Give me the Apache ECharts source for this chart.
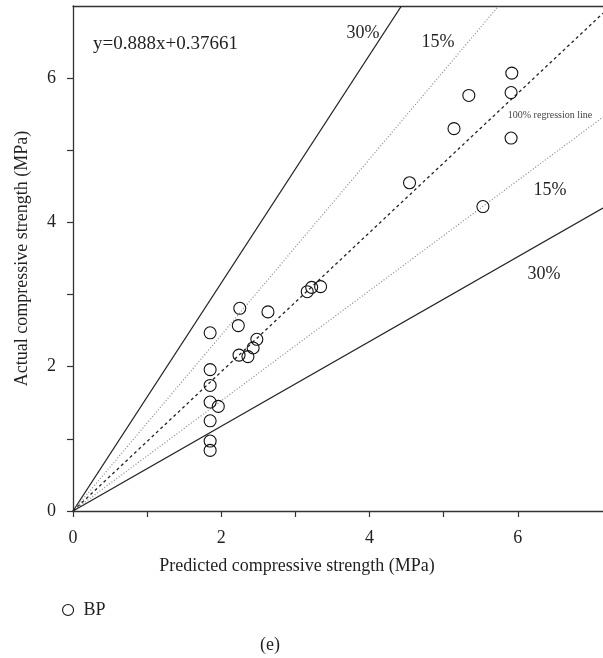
<!DOCTYPE html>
<html>
<head>
<meta charset="utf-8">
<style>
  html, body { margin: 0; padding: 0; background: #fff; }
  #main { width: 603px; height: 658px; }
</style>
<script src="https://cdn.jsdelivr.net/npm/echarts@6/dist/echarts.min.js"></script>
</head>
<body>
<div id="main"></div>
<script>
// measured points (predicted, actual), MPa
var predicted = [1.85, 2.25, 2.23, 2.63, 3.16, 3.22, 3.34, 2.48, 2.43, 2.24, 2.36,
                 1.85, 1.85, 1.85, 1.96, 1.85, 1.85, 1.85,
                 5.92, 5.91, 5.34, 5.14, 5.91, 4.54, 5.53];
var actual = [2.47, 2.81, 2.57, 2.76, 3.04, 3.10, 3.11, 2.38, 2.26, 2.16, 2.14,
              1.96, 1.74, 1.51, 1.45, 1.25, 0.97, 0.84,
              6.07, 5.80, 5.76, 5.30, 5.17, 4.55, 4.22];

// reference lines from the origin, given by their far end point
var refNames = ['+30%', '+15%', 'regression', '-15%', '-30%'];
var refEnds = [[4.43, 7.0], [5.74, 7.0], [7.15, 6.9], [7.15, 5.46], [7.15, 4.2]];

var xTicks = [0, 1, 2, 3, 4, 5, 6];
var yTicks = [0, 1, 2, 3, 4, 5, 6];
var tickLabels = [0, 2, 4, 6];

var font = "'Liberation Serif', 'DejaVu Serif', serif";
var ink = '#231f20';

var refStyles = [
  { color: '#222', width: 1.3, type: 'solid' },
  { color: '#888', width: 1.2, type: [1, 2] },
  { color: '#222', width: 1.3, type: [3, 3] },
  { color: '#888', width: 1.2, type: [1, 2] },
  { color: '#222', width: 1.3, type: 'solid' }
];

var chart = echarts.init(document.getElementById('main'));

var series = refNames.map(function (n, i) {
  return {
    name: n,
    type: 'line',
    data: [[0, 0], refEnds[i]],
    symbol: 'none',
    silent: true,
    lineStyle: refStyles[i],
    z: 1
  };
});

series.push({
  name: 'BP',
  type: 'scatter',
  data: predicted.map(function (v, i) { return [v, actual[i]]; }),
  symbol: 'circle',
  symbolSize: 12,
  itemStyle: { color: 'rgba(255,255,255,0)', borderColor: '#111', borderWidth: 1.1, opacity: 1 },
  z: 3
});

var option = {
  animation: false,
  backgroundColor: '#fff',
  grid: { left: 73, right: 0, top: 6, bottom: 147, outerBoundsMode: 'none' },
  legend: {
    data: ['BP'],
    left: 62,
    top: 601,
    padding: 0,
    icon: 'circle',
    itemWidth: 11,
    itemHeight: 11,
    itemStyle: { color: '#fff', borderColor: '#111', borderWidth: 1.1 },
    textStyle: { fontFamily: font, fontSize: 18, color: ink, padding: [0, 0, 0, 5] }
  },
  xAxis: [{
    type: 'value',
    min: 0,
    max: 7.15,
    interval: 1,
    splitLine: { show: false },
    axisLine: { lineStyle: { color: '#333', width: 1.3 } },
    axisTick: { customValues: xTicks, length: 6, lineStyle: { color: '#333', width: 1.2 } },
    axisLabel: { customValues: tickLabels, margin: 18, fontFamily: font, fontSize: 18, color: ink }
  }, {
    type: 'value',
    position: 'top',
    min: 0,
    max: 7.15,
    splitLine: { show: false },
    axisLine: { show: true, onZero: false, lineStyle: { color: '#333', width: 1.3 } },
    axisTick: { show: false },
    axisLabel: { show: false }
  }],
  yAxis: {
    type: 'value',
    min: 0,
    max: 7,
    interval: 1,
    name: 'Actual compressive strength (MPa)',
    nameLocation: 'middle',
    nameGap: 42,
    nameTextStyle: { fontFamily: font, fontSize: 18, color: ink },
    splitLine: { show: false },
    axisLine: { lineStyle: { color: '#333', width: 1.3 } },
    axisTick: { customValues: yTicks, length: 6, lineStyle: { color: '#333', width: 1.2 } },
    axisLabel: { customValues: tickLabels, margin: 17, fontFamily: font, fontSize: 18, color: ink }
  },
  graphic: [
    { type: 'text', left: 93, top: 35, style: { text: 'y=0.888x+0.37661', font: '19px ' + font, fill: ink } },
    { type: 'text', x: 363, y: 33, style: { text: '30%', font: '18px ' + font, fill: ink, align: 'center', verticalAlign: 'middle' } },
    { type: 'text', x: 438, y: 42, style: { text: '15%', font: '18px ' + font, fill: ink, align: 'center', verticalAlign: 'middle' } },
    { type: 'text', x: 550, y: 115, style: { text: '100% regression line', font: '10px ' + font, fill: '#444', align: 'center', verticalAlign: 'middle' } },
    { type: 'text', x: 550, y: 190, style: { text: '15%', font: '18px ' + font, fill: ink, align: 'center', verticalAlign: 'middle' } },
    { type: 'text', x: 544, y: 274, style: { text: '30%', font: '18px ' + font, fill: ink, align: 'center', verticalAlign: 'middle' } },
    { type: 'text', x: 297, y: 566, style: { text: 'Predicted compressive strength (MPa)', font: '18px ' + font, fill: ink, align: 'center', verticalAlign: 'middle' } },
    { type: 'text', x: 270, y: 645, style: { text: '(e)', font: '18px ' + font, fill: ink, align: 'center', verticalAlign: 'middle' } }
  ],
  series: series
};

chart.setOption(option);
</script>
</body>
</html>
